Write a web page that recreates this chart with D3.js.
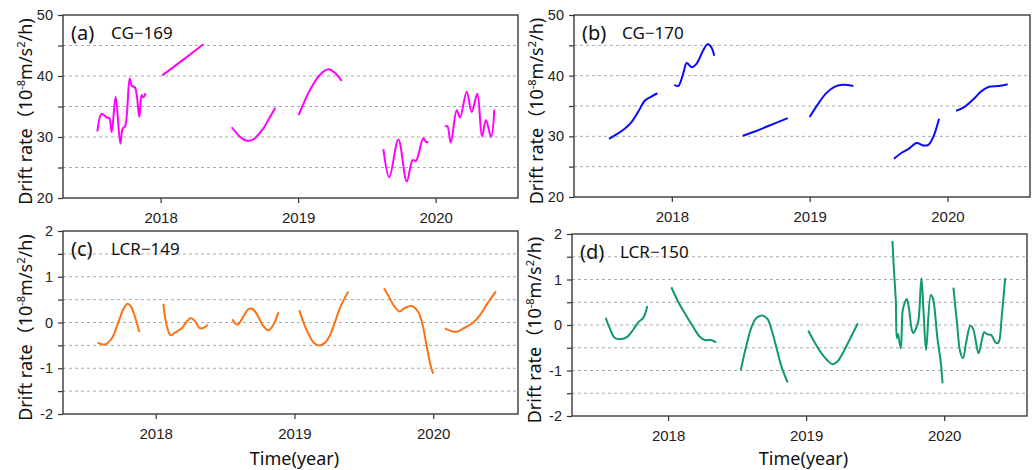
<!DOCTYPE html>
<html>
<head>
<meta charset="utf-8">
<script src="https://cdn.jsdelivr.net/npm/d3@7"></script>
<style>
  body { margin: 0; background: #fff; }
  svg { display: block; font-family: "Noto Sans", "Open Sans", "Noto Sans CJK SC", sans-serif; }
</style>
</head>
<body>
<svg id="chart" width="1033" height="470"></svg>
<script>
const yearTicks = [2018, 2019, 2020];

// each series = list of segments, each segment = [decimal year, drift rate]
const cg169 = [
  [[2017.54,30.9],[2017.571,33.8],[2017.608,33.2],[2017.627,33.1],[2017.644,30.8],[2017.673,36.6],[2017.707,28.9],[2017.724,31.4],[2017.741,31.7],[2017.775,39.6],[2017.79,38.4],[2017.814,38.1],[2017.845,33.3],[2017.862,36.9],[2017.874,36.5],[2017.891,37.2]],
  [[2018.012,40.1],[2018.16,42.6],[2018.31,45.2]],
  [[2018.517,31.6],[2018.577,30.05],[2018.626,29.4],[2018.674,29.6],[2018.747,31.4],[2018.783,32.8],[2018.834,34.8]],
  [[2019.004,33.6],[2019.086,37.7],[2019.159,40.2],[2019.22,41.1],[2019.268,40.5],[2019.317,39.2]],
  [[2019.62,28.0],[2019.663,23.4],[2019.729,29.6],[2019.79,22.7],[2019.833,26.2],[2019.857,26.1],[2019.91,29.8],[2019.93,29.2],[2019.947,29.2]],
  [[2020.068,31.7],[2020.085,31.8],[2020.11,29.1],[2020.153,34.4],[2020.177,33.2],[2020.226,37.4],[2020.262,34.1],[2020.303,37.1],[2020.337,30.1],[2020.366,32.8],[2020.403,30.0],[2020.427,34.5]]
];

const cg170 = [
  [[2017.544,29.6],[2017.61,30.5],[2017.66,31.3],[2017.709,32.4],[2017.757,34.1],[2017.805,35.9],[2017.854,36.6],[2017.895,37.1]],
  [[2018.018,38.5],[2018.047,38.3],[2018.083,40.4],[2018.108,42.1],[2018.144,41.4],[2018.18,42.0],[2018.228,44.2],[2018.26,45.2],[2018.284,44.8],[2018.308,43.3]],
  [[2018.514,30.1],[2018.603,30.8],[2018.7,31.7],[2018.841,33.0]],
  [[2019.0,33.2],[2019.063,35.4],[2019.124,37.2],[2019.184,38.2],[2019.244,38.5],[2019.317,38.3]],
  [[2019.612,26.3],[2019.668,27.3],[2019.716,27.9],[2019.777,28.9],[2019.825,28.5],[2019.861,28.6],[2019.897,29.9],[2019.939,32.9]],
  [[2020.062,34.2],[2020.127,34.9],[2020.188,36.1],[2020.249,37.5],[2020.309,38.2],[2020.369,38.3],[2020.437,38.6]]
];

const lcr149 = [
  [[2017.58,-0.44],[2017.635,-0.48],[2017.683,-0.35],[2017.731,0.01],[2017.767,0.29],[2017.796,0.41],[2017.82,0.36],[2017.851,0.12],[2017.882,-0.21]],
  [[2018.055,0.41],[2018.079,-0.06],[2018.108,-0.28],[2018.139,-0.22],[2018.187,-0.13],[2018.219,0.0],[2018.252,0.1],[2018.283,0.03],[2018.315,-0.12],[2018.343,-0.12],[2018.375,-0.05]],
  [[2018.552,0.07],[2018.588,-0.05],[2018.62,0.07],[2018.668,0.29],[2018.696,0.30],[2018.728,0.19],[2018.776,-0.08],[2018.812,-0.17],[2018.848,-0.05],[2018.884,0.22]],
  [[2019.035,0.27],[2019.064,0.01],[2019.1,-0.24],[2019.136,-0.43],[2019.179,-0.5],[2019.22,-0.44],[2019.256,-0.28],[2019.292,0.01],[2019.328,0.32],[2019.388,0.68]],
  [[2019.645,0.75],[2019.676,0.59],[2019.712,0.39],[2019.756,0.24],[2019.796,0.32],[2019.844,0.36],[2019.892,0.23],[2019.924,-0.06],[2019.952,-0.5],[2019.981,-0.94],[2020.0,-1.12]],
  [[2020.084,-0.13],[2020.132,-0.19],[2020.17,-0.2],[2020.217,-0.13],[2020.289,0.0],[2020.337,0.16],[2020.385,0.39],[2020.452,0.68]]
];

const lcr150 = [
  [[2017.548,0.16],[2017.577,-0.07],[2017.613,-0.28],[2017.657,-0.31],[2017.705,-0.26],[2017.746,-0.11],[2017.787,0.07],[2017.819,0.15],[2017.85,0.42]],
  [[2018.024,0.83],[2018.073,0.51],[2018.121,0.26],[2018.181,-0.04],[2018.23,-0.26],[2018.266,-0.33],[2018.31,-0.33],[2018.348,-0.38]],
  [[2018.527,-0.99],[2018.568,-0.44],[2018.605,-0.04],[2018.641,0.16],[2018.682,0.21],[2018.721,0.13],[2018.75,-0.11],[2018.786,-0.51],[2018.822,-0.92],[2018.866,-1.26]],
  [[2019.015,-0.12],[2019.056,-0.35],[2019.104,-0.59],[2019.152,-0.77],[2019.189,-0.86],[2019.225,-0.81],[2019.274,-0.57],[2019.322,-0.28],[2019.375,0.04]],
  [[2019.625,1.85],[2019.637,1.17],[2019.65,0.51],[2019.657,-0.29],[2019.666,-0.2],[2019.672,-0.3],[2019.686,-0.51],[2019.7,0.33],[2019.717,0.51],[2019.729,0.57],[2019.743,0.4],[2019.766,-0.11],[2019.777,-0.18],[2019.797,-0.07],[2019.814,0.11],[2019.835,1.03],[2019.852,0.2],[2019.869,-0.55],[2019.903,0.66],[2019.918,0.59],[2019.951,-0.29],[2019.976,-0.84],[2019.988,-1.28]],
  [[2020.067,0.82],[2020.092,0.07],[2020.116,-0.59],[2020.136,-0.73],[2020.16,-0.37],[2020.189,-0.02],[2020.208,-0.07],[2020.249,-0.62],[2020.273,-0.33],[2020.29,-0.16],[2020.31,-0.2],[2020.341,-0.22],[2020.37,-0.38],[2020.387,-0.4],[2020.398,-0.36],[2020.418,0.22],[2020.442,1.03]]
];

const gTicks = [20, 25, 30, 35, 40, 45, 50];
const lTicks = [-2, -1.5, -1, -0.5, 0, 0.5, 1, 1.5, 2];

const panels = [
  { tag: "(a)", name: "CG\u2212169", data: cg169, color: "#ff00ff", ticks: gTicks, major: 10,
    left: 63, right: 518, top: 15, bottom: 198, xd: [2017.29, 2020.599], title: false },
  { tag: "(b)", name: "CG\u2212170", data: cg170, color: "#0a0aff", ticks: gTicks, major: 10,
    left: 574, right: 1030, top: 15, bottom: 197, xd: [2017.29, 2020.599], title: false },
  { tag: "(c)", name: "LCR\u2212149", data: lcr149, color: "#fd7112", ticks: lTicks, major: 1,
    left: 63, right: 518, top: 231, bottom: 414, xd: [2017.332, 2020.611], title: true },
  { tag: "(d)", name: "LCR\u2212150", data: lcr150, color: "#0f9a68", ticks: lTicks, major: 1,
    left: 572, right: 1027, top: 234, bottom: 416, xd: [2017.304, 2020.6], title: true }
];

const svg = d3.select("#chart");

panels.forEach(p => {
  const x = d3.scaleLinear().domain(p.xd).range([p.left, p.right]);
  const y = d3.scaleLinear().domain(d3.extent(p.ticks)).range([p.bottom, p.top]);
  const g = svg.append("g");

  // dotted grid
  g.selectAll("line.grid")
    .data(p.ticks.slice(1, -1))
    .enter().append("line")
    .attr("class", "grid")
    .attr("x1", p.left).attr("x2", p.right)
    .attr("y1", d => y(d)).attr("y2", d => y(d))
    .attr("stroke", "#aaa")
    .attr("stroke-width", 1)
    .attr("stroke-dasharray", "3,3");

  // y axis
  const ya = g.append("g")
    .attr("transform", `translate(${p.left},0)`)
    .call(d3.axisLeft(y).tickValues(p.ticks).tickSize(5).tickPadding(5)
      .tickFormat(d => Math.abs(d % p.major) < 1e-9 ? String(d) : ""));

  // x axis
  const xa = g.append("g")
    .attr("transform", `translate(0,${p.bottom})`)
    .call(d3.axisBottom(x).tickValues(yearTicks).tickSize(5).tickPadding(9.5).tickFormat(d3.format("d")));

  [ya, xa].forEach(a => {
    a.select(".domain").remove();
    a.selectAll("line").attr("stroke", "#333").attr("stroke-width", 1.2);
    a.selectAll("text").attr("fill", "#222").attr("font-family", null);
  });
  ya.selectAll("text").attr("font-size", 14.5);
  xa.selectAll("text").attr("font-size", 15);

  // curves
  const line = d3.line()
    .x(d => x(d[0]))
    .y(d => y(d[1]))
    .curve(d3.curveCatmullRom.alpha(0.5));

  g.selectAll("path.seg")
    .data(p.data)
    .enter().append("path")
    .attr("class", "seg")
    .attr("d", line)
    .attr("fill", "none")
    .attr("stroke", p.color)
    .attr("stroke-width", 2)
    .attr("stroke-linejoin", "round");

  // frame
  g.append("rect")
    .attr("x", p.left).attr("y", p.top)
    .attr("width", p.right - p.left).attr("height", p.bottom - p.top)
    .attr("fill", "none")
    .attr("stroke", "#3a3a3a")
    .attr("stroke-width", 1.4);

  // panel tag
  g.append("text")
    .attr("x", p.left + 8).attr("y", p.top + 25)
    .attr("font-size", 20).attr("fill", "#111")
    .text(p.tag);
  g.append("text")
    .attr("x", p.left + 48).attr("y", p.top + 24)
    .attr("font-size", 17).attr("fill", "#111")
    .text(p.name);

  // y label
  const cy = (p.top + p.bottom) / 2 + 5;
  const lab = g.append("text")
    .attr("transform", `translate(${p.left - 31},${cy}) rotate(-90)`)
    .attr("text-anchor", "middle")
    .attr("font-size", 18)
    .attr("fill", "#111");
  lab.append("tspan").text("Drift rate\uff0810");
  lab.append("tspan").attr("dy", -7).attr("font-size", 11).text("-8");
  lab.append("tspan").attr("dy", 7).text("m/s");
  lab.append("tspan").attr("dy", -7).attr("font-size", 11).text("2");
  lab.append("tspan").attr("dy", 7).text("/h)");

  if (p.title) {
    g.append("text")
      .attr("x", (p.left + p.right) / 2 + 4)
      .attr("y", 465)
      .attr("text-anchor", "middle")
      .attr("font-size", 18)
      .attr("fill", "#111")
      .text("Time(year)");
  }
});
</script>
</body>
</html>
